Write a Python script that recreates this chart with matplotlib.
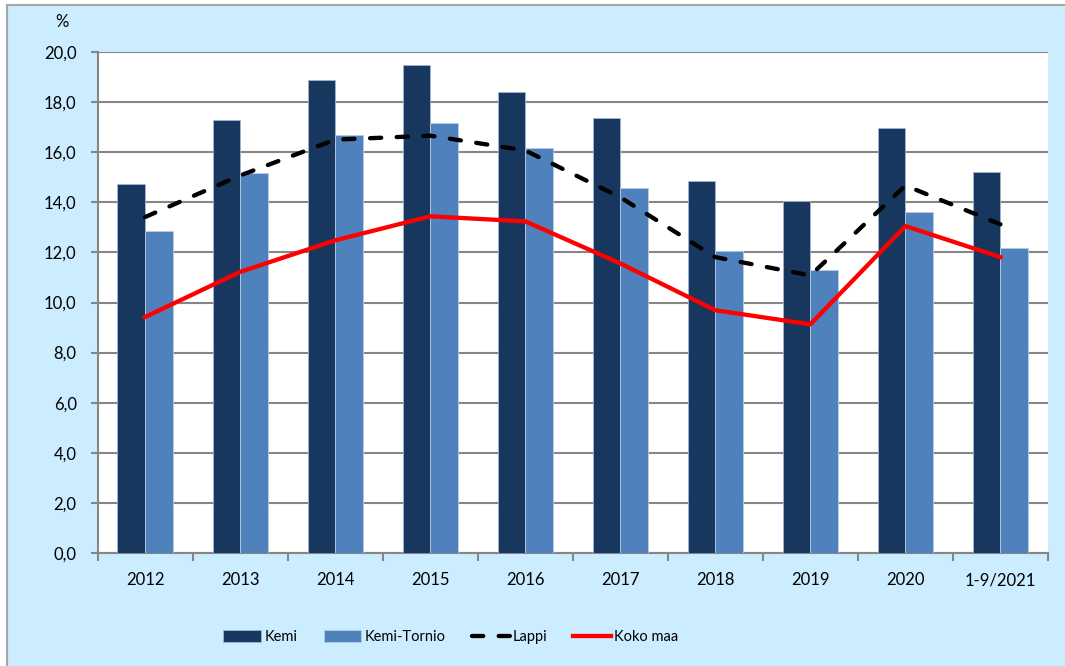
import numpy as np
import matplotlib.pyplot as plt
from matplotlib.patches import Rectangle
from matplotlib.lines import Line2D
from matplotlib.patches import Patch

plt.rcParams['font.family'] = ['Lato', 'DejaVu Sans']

# Data
years = ["2012", "2013", "2014", "2015", "2016", "2017", "2018", "2019", "2020", "1-9/2021"]
kemi = [14.73, 17.30, 18.87, 19.47, 18.39, 17.36, 14.87, 14.05, 16.96, 15.22]
kemi_tornio = [12.87, 15.18, 16.68, 17.16, 16.16, 14.57, 12.05, 11.30, 13.61, 12.16]
lappi = [13.41, 15.07, 16.50, 16.66, 16.07, 14.20, 11.81, 11.08, 14.67, 13.12]
koko_maa = [9.42, 11.22, 12.48, 13.44, 13.24, 11.56, 9.69, 9.13, 13.05, 11.81]
y_ticks = np.arange(0, 20.1, 2)

bg = '#CCECFF'
grid_c = '#868686'
c_kemi = '#17375E'
c_kt = '#4F81BD'

fig = plt.figure(figsize=(10.65, 6.66), dpi=100)
fig.patch.set_facecolor('white')

# light blue chart area with gray border on the left and top
fig.patches.append(Rectangle((7 / 1065, -0.05), 1.1, 1 - 5 / 666 + 0.05,
                             transform=fig.transFigure, facecolor=bg,
                             edgecolor='#A6A6A6', linewidth=1.5, zorder=-10))

ax = fig.add_axes([97.5 / 1065, 1 - 553 / 666, (1048 - 97.5) / 1065, (553 - 52) / 666])
ax.set_facecolor('white')

x = np.arange(len(years))
w = 0.29
ax.bar(x - w / 2, kemi, w, color=c_kemi, edgecolor='#9fb6d3', linewidth=0.6, zorder=3)
ax.bar(x + w / 2, kemi_tornio, w, color=c_kt, edgecolor='#b8cce4', linewidth=0.6, zorder=3)

ax.plot(x, lappi, color='black', linewidth=3.1, dashes=(2.6, 3.6),
        dash_capstyle='round', zorder=4)
ax.plot(x, koko_maa, color='#FF0000', linewidth=3.1, zorder=5)

ax.set_xlim(-0.5, len(years) - 0.5)
ax.set_ylim(0, 20)

# y axis
ax.set_yticks(y_ticks)
ax.set_yticklabels([f"{v:.1f}".replace('.', ',') for v in y_ticks], fontsize=12)
ax.yaxis.grid(True, color=grid_c, linewidth=1.5, zorder=0)
ax.tick_params(axis='y', length=5, width=1.5, color=grid_c, pad=10)

# x axis: ticks at boundaries, labels at centres
ax.set_xticks(np.arange(-0.5, len(years), 1))
ax.set_xticklabels([])
ax.set_xticks(x, minor=True)
ax.set_xticklabels(years, minor=True, fontsize=12)
ax.tick_params(axis='x', which='major', length=6, width=1.5, color=grid_c)
ax.tick_params(axis='x', which='minor', length=0, pad=14)

for s in ['top', 'right']:
    ax.spines[s].set_visible(False)
for s in ['left', 'bottom']:
    ax.spines[s].set_color(grid_c)
    ax.spines[s].set_linewidth(1.5)

fig.text(62 / 1065, 1 - 22 / 666, '%', fontsize=12, ha='center', va='center')

handles = [
    Patch(facecolor=c_kemi, edgecolor='#9fb6d3', linewidth=0.6),
    Patch(facecolor=c_kt, edgecolor='#b8cce4', linewidth=0.6),
    Line2D([0], [0], color='black', linewidth=3.1, dashes=(2.6, 3.6), dash_capstyle='round'),
    Line2D([0], [0], color='#FF0000', linewidth=3.1),
]
fig.legend(handles, ['Kemi', 'Kemi-Tornio', 'Lappi', 'Koko maa'], ncol=4,
           loc='center', bbox_to_anchor=(451 / 1065, 1 - 637 / 666),
           frameon=False, fontsize=10.5, handlelength=2.6, handleheight=0.8,
           handletextpad=0.2, columnspacing=1.8)

fig.savefig('out.png', dpi=100, facecolor=fig.get_facecolor())
